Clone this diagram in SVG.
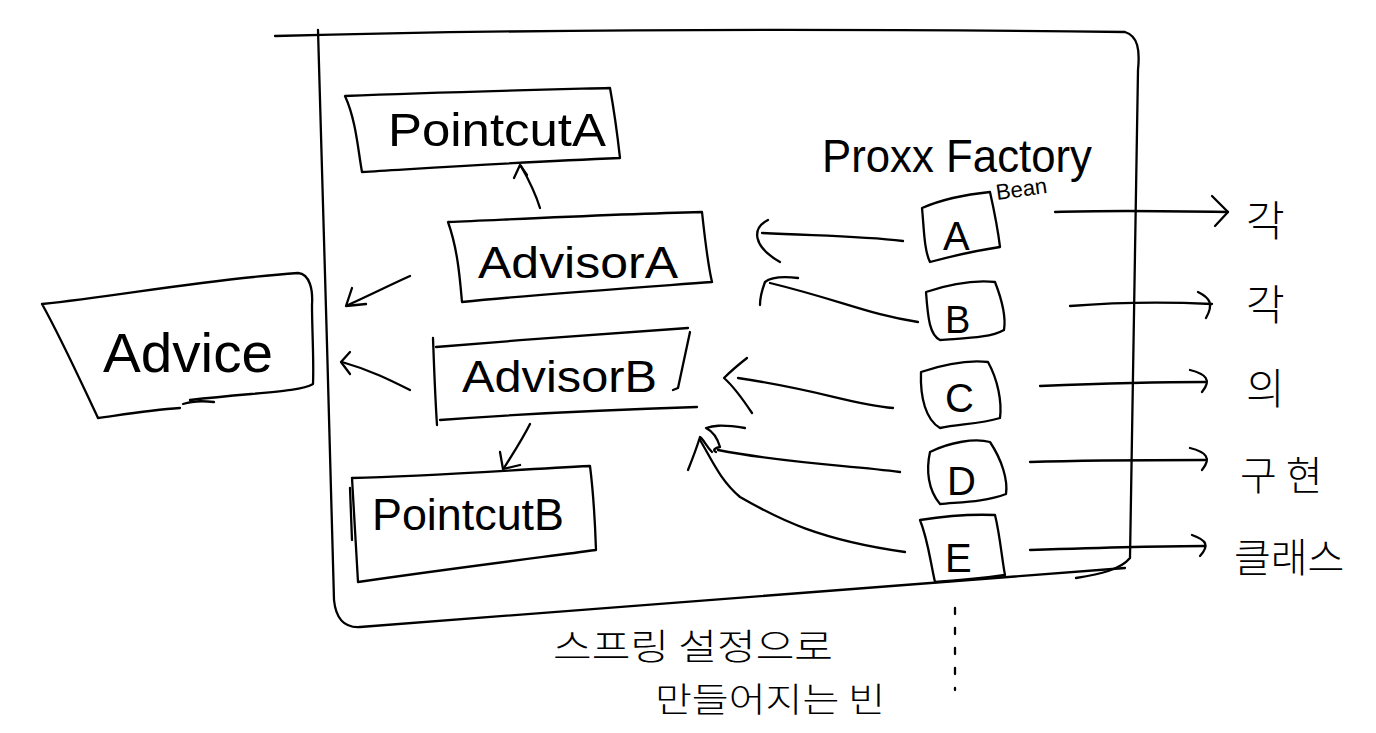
<svg xmlns="http://www.w3.org/2000/svg" width="1376" height="733" viewBox="0 0 1376 733">
<style>
.s{fill:none;stroke:#000;stroke-width:2.3;stroke-linecap:round;stroke-linejoin:round}
.t{font-family:"Liberation Sans","Noto Sans CJK KR",sans-serif;fill:#000;font-weight:normal}
.k{font-family:"Noto Sans CJK KR","Liberation Sans",sans-serif;fill:#000;font-weight:300}
</style>
<rect width="1376" height="733" fill="#fff"/>
<g id="frame">
<path class="s" d="M275,36 C500,30 800,28 1125,32 C1138,36 1140,50 1138,70 C1134,250 1132,420 1130,558 C1120,570 1100,574 1076,578"/>
<path class="s" d="M318,30 C322,200 330,420 334,600 C336,620 345,628 360,627 C600,610 850,590 1125,568"/>
</g>
<g id="pointcutA">
<path class="s" d="M345,96 C440,92 530,90 610,88 C614,110 618,140 620,158 C520,162 430,168 362,172 C358,150 356,120 345,96 Z"/>
<text class="t" x="388" y="146" font-size="46" textLength="218" lengthAdjust="spacingAndGlyphs">PointcutA</text>
</g>
<g id="advisorA">
<path class="s" d="M448,222 C540,218 620,214 702,212 C705,240 708,265 712,282 C630,288 540,294 462,302 C460,280 458,250 448,222 Z"/>
<text class="t" x="478" y="278" font-size="44" textLength="200" lengthAdjust="spacingAndGlyphs">AdvisorA</text>
</g>
<g id="advice">
<path class="s" d="M42,304 C120,296 200,280 298,273 C310,274 313,290 312,305 C312,330 314,360 313,384 C300,392 260,392 190,400 M98,418 C80,380 62,340 42,304 M98,418 C120,415 150,410 180,408"/>
<path class="s" d="M183,404 C195,400 205,401 214,402"/>
<text class="t" x="103" y="372" font-size="56" textLength="170" lengthAdjust="spacingAndGlyphs">Advice</text>
</g>
<g id="advisorB">
<path class="s" d="M436,347 C520,340 600,334 688,328"/>
<path class="s" d="M690,332 C686,350 682,370 678,388 L673,390"/>
<path class="s" d="M440,420 C520,414 600,410 697,407"/>
<path class="s" d="M433,338 C434,365 435,395 437,425"/>
<text class="t" x="462" y="392" font-size="44" textLength="195" lengthAdjust="spacingAndGlyphs">AdvisorB</text>
</g>
<g id="pointcutB">
<path class="s" d="M352,478 C430,476 510,470 590,466 C593,490 595,520 596,550 C520,560 440,570 358,582 C356,550 354,510 352,478 Z"/>
<path class="s" d="M350,488 L352,540"/>
<text class="t" x="372" y="530" font-size="44" textLength="192" lengthAdjust="spacingAndGlyphs">PointcutB</text>
</g>
<g id="proxyFactory">
<text class="t" x="822" y="172" font-size="46" textLength="270" lengthAdjust="spacingAndGlyphs">Proxx Factory</text>
<text class="t" x="997" y="200" font-size="22" transform="rotate(-8 997 200)">Bean</text>
</g>
<g id="boxA">
<path class="s" d="M922,208 C945,198 970,194 990,192 C994,210 998,230 1000,247 C980,250 960,254 930,262 C924,250 924,228 922,208 Z"/>
<text class="t" x="943" y="250" font-size="40">A</text>
</g>
<g id="boxB">
<path class="s" d="M926,292 C950,284 975,280 995,282 C1002,300 1006,318 1004,330 C990,338 965,338 940,340 C930,335 928,320 926,292 Z"/>
<text class="t" x="945" y="333" font-size="38">B</text>
</g>
<g id="boxC">
<path class="s" d="M921,372 C945,364 970,360 988,362 C998,380 1002,402 1000,418 C980,424 960,424 940,428 C926,420 920,398 921,372 Z"/>
<text class="t" x="945" y="412" font-size="40">C</text>
</g>
<g id="boxD">
<path class="s" d="M930,452 C950,442 975,438 990,442 C1002,460 1008,480 1006,494 C985,502 960,502 940,504 C928,490 926,470 930,452 Z"/>
<text class="t" x="947" y="495" font-size="40">D</text>
</g>
<g id="boxE">
<path class="s" d="M920,520 C945,516 970,514 995,515 C1000,535 1002,560 1005,575 C985,578 965,580 935,582 C930,560 928,540 920,520 Z"/>
<text class="t" x="945" y="572" font-size="40">E</text>
</g>
<g id="connectors">
<path class="s" d="M540,208 C536,195 530,182 521,166"/>
<path class="s" d="M514,178 L520,165 L527,175"/>
<path class="s" d="M410,276 C390,285 370,295 348,305"/>
<path class="s" d="M352,288 L346,306 L366,304"/>
<path class="s" d="M410,390 C390,380 370,370 342,362"/>
<path class="s" d="M350,352 L341,362 L350,374"/>
<path class="s" d="M530,424 C522,440 512,455 504,468"/>
<path class="s" d="M500,452 L503,469 L520,465"/>
<path class="s" d="M903,241 C860,236 820,236 762,233"/>
<path class="s" d="M768,220 C752,228 752,246 780,262"/>
<path class="s" d="M918,322 C870,315 840,300 770,283"/>
<path class="s" d="M798,278 C780,276 770,278 765,282 C762,290 760,298 760,305"/>
<path class="s" d="M893,408 C850,404 820,390 738,378"/>
<path class="s" d="M747,358 C738,365 730,372 724,378 C732,385 740,395 752,413"/>
<path class="s" d="M900,472 C850,465 790,464 718,450"/>
<path class="s" d="M745,428 C720,424 712,426 706,428 C714,432 718,440 720,447 C715,448 712,450 716,452"/>
<path class="s" d="M905,552 C820,540 780,520 740,497 C720,480 712,460 700,440"/>
<path class="s" d="M688,470 C692,460 696,450 700,437 C704,440 706,446 712,452"/>
<path class="s" d="M1055,212 C1110,210 1170,211 1228,212"/>
<path class="s" d="M1212,196 L1228,212 L1215,226"/>
<path class="s" d="M1070,306 C1120,302 1170,302 1212,304"/>
<path class="s" d="M1198,292 C1210,298 1214,304 1206,318"/>
<path class="s" d="M1040,386 C1090,384 1150,382 1205,382"/>
<path class="s" d="M1190,370 C1206,374 1212,380 1202,392"/>
<path class="s" d="M1030,462 C1090,460 1150,460 1205,460"/>
<path class="s" d="M1190,448 C1206,452 1212,458 1202,470"/>
<path class="s" d="M1030,550 C1090,548 1150,546 1205,546"/>
<path class="s" d="M1192,535 C1206,540 1210,545 1200,556"/>
<path class="s" d="M955,608 L955,690" stroke-dasharray="6,14" stroke-width="1.6"/>
</g>
<g id="labels">
<text class="k" x="1246" y="236" font-size="42">각</text>
<text class="k" x="1246" y="320" font-size="42">각</text>
<text class="k" x="1246" y="404" font-size="42">의</text>
<text class="k" x="1240" y="490" font-size="40">구 현</text>
<text class="k" x="1234" y="572" font-size="40">클래스</text>
<text class="k" x="553" y="660" font-size="36" textLength="280" lengthAdjust="spacingAndGlyphs">스프링 설정으로</text>
<text class="k" x="655" y="712" font-size="34" textLength="230" lengthAdjust="spacingAndGlyphs">만들어지는 빈</text>
</g>
</svg>
